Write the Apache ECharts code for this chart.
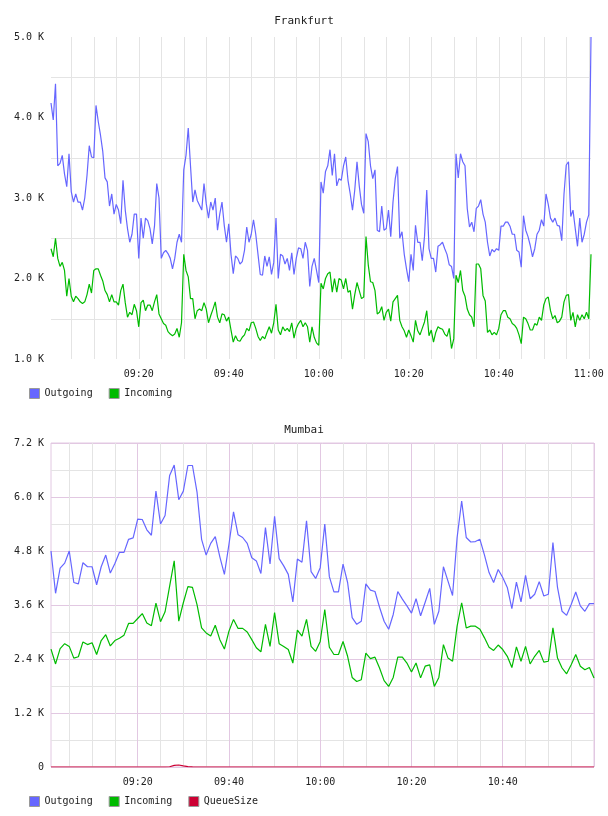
<!DOCTYPE html>
<html>
<head>
<meta charset="utf-8">
<title>Frankfurt / Mumbai</title>
<script src="https://cdn.jsdelivr.net/npm/echarts@6/dist/echarts.min.js"></script>
<style>
    html, body { margin: 0; padding: 0; background: #fff; }
    .chart { width: 608px; height: 408px; }
</style>
</head>
<body>
<div id="frankfurt" class="chart"></div>
<div id="mumbai" class="chart"></div>
<script>
'use strict';

// times are minutes after midnight, values in K
var frankfurtStart = 540.5;
var frankfurtStep = 0.5;
var frankfurtOutgoing = [
    4.18, 3.97, 4.42, 3.40, 3.43, 3.53, 3.30, 3.14, 3.55, 3.08, 2.95, 3.05, 2.95, 2.95, 2.85, 3.00, 3.28, 3.65, 3.51, 3.50,
    4.15, 3.95, 3.78, 3.58, 3.25, 3.20, 2.90, 3.05, 2.80, 2.92, 2.85, 2.68, 3.22, 2.85, 2.62, 2.45, 2.55, 2.80, 2.80, 2.25,
    2.75, 2.50, 2.75, 2.72, 2.62, 2.43, 2.65, 3.18, 3.00, 2.25, 2.32, 2.35, 2.31, 2.25, 2.12, 2.25, 2.45, 2.55, 2.45, 3.35,
    3.53, 3.87, 3.40, 2.95, 3.10, 2.97, 2.91, 2.85, 3.18, 2.93, 2.75, 2.95, 2.85, 3.00, 2.60, 2.80, 2.95, 2.66, 2.45, 2.68,
    2.30, 2.06, 2.28, 2.25, 2.18, 2.21, 2.35, 2.64, 2.45, 2.55, 2.73, 2.55, 2.30, 2.05, 2.04, 2.28, 2.15, 2.27, 2.05, 2.20,
    2.75, 2.00, 2.30, 2.28, 2.18, 2.25, 2.10, 2.32, 2.05, 2.25, 2.38, 2.37, 2.25, 2.45, 2.35, 1.90, 2.15, 2.25, 2.10, 1.95,
    3.20, 3.06, 3.33, 3.40, 3.60, 3.28, 3.55, 3.15, 3.24, 3.22, 3.40, 3.51, 3.22, 3.05, 2.85, 3.10, 3.45, 3.15, 2.92, 2.81,
    3.80, 3.70, 3.40, 3.24, 3.35, 2.60, 2.58, 2.90, 2.60, 2.62, 2.85, 2.52, 2.95, 3.24, 3.39, 2.50, 2.58, 2.30, 2.12, 1.96,
    2.30, 2.10, 2.66, 2.45, 2.45, 2.22, 2.52, 3.10, 2.37, 2.25, 2.25, 2.08, 2.40, 2.42, 2.45, 2.37, 2.30, 2.17, 2.15, 2.00,
    3.55, 3.25, 3.55, 3.45, 3.40, 2.87, 2.64, 2.70, 2.58, 2.87, 2.90, 2.98, 2.80, 2.70, 2.45, 2.28, 2.36, 2.33, 2.37, 2.35,
    2.65, 2.65, 2.70, 2.70, 2.65, 2.55, 2.55, 2.35, 2.33, 2.14, 2.78, 2.60, 2.52, 2.41, 2.27, 2.37, 2.55, 2.60, 2.73, 2.65,
    3.05, 2.92, 2.75, 2.70, 2.75, 2.66, 2.65, 2.47, 3.05, 3.41, 3.45, 2.77, 2.85, 2.62, 2.40, 2.75, 2.45, 2.55, 2.70, 2.79,
    5.00
];
var frankfurtIncoming = [
    2.37, 2.27, 2.50, 2.25, 2.15, 2.20, 2.10, 1.78, 2.00, 1.78, 1.71, 1.78, 1.75, 1.71, 1.69, 1.71, 1.80, 1.93, 1.82, 2.10,
    2.12, 2.12, 2.04, 1.97, 1.85, 1.80, 1.71, 1.80, 1.71, 1.71, 1.67, 1.85, 1.93, 1.70, 1.52, 1.58, 1.55, 1.68, 1.60, 1.40,
    1.70, 1.73, 1.60, 1.67, 1.67, 1.60, 1.71, 1.80, 1.56, 1.50, 1.44, 1.42, 1.34, 1.31, 1.29, 1.31, 1.38, 1.27, 1.45, 2.30,
    2.10, 2.02, 1.75, 1.75, 1.50, 1.60, 1.62, 1.60, 1.70, 1.62, 1.45, 1.54, 1.62, 1.71, 1.52, 1.45, 1.56, 1.55, 1.47, 1.52,
    1.36, 1.21, 1.29, 1.23, 1.22, 1.27, 1.30, 1.38, 1.35, 1.45, 1.46, 1.38, 1.28, 1.23, 1.28, 1.25, 1.33, 1.40, 1.32, 1.45,
    1.68, 1.36, 1.30, 1.40, 1.35, 1.38, 1.34, 1.45, 1.26, 1.38, 1.44, 1.48, 1.40, 1.45, 1.40, 1.21, 1.40, 1.27, 1.20, 1.17,
    1.94, 1.87, 2.00, 2.06, 2.08, 1.83, 2.00, 1.83, 2.00, 1.98, 1.87, 2.00, 1.83, 1.85, 1.62, 1.80, 1.95, 1.85, 1.75, 1.77,
    2.52, 2.17, 1.96, 1.95, 1.85, 1.56, 1.58, 1.65, 1.48, 1.58, 1.62, 1.47, 1.71, 1.75, 1.79, 1.48, 1.40, 1.35, 1.27, 1.36,
    1.29, 1.21, 1.48, 1.35, 1.30, 1.38, 1.46, 1.60, 1.29, 1.36, 1.21, 1.33, 1.40, 1.38, 1.37, 1.31, 1.28, 1.38, 1.13, 1.25,
    2.04, 1.95, 2.10, 1.85, 1.78, 1.62, 1.55, 1.52, 1.40, 2.18, 2.18, 2.12, 1.79, 1.72, 1.33, 1.36, 1.30, 1.33, 1.30, 1.38,
    1.55, 1.60, 1.60, 1.52, 1.50, 1.44, 1.42, 1.38, 1.30, 1.19, 1.52, 1.50, 1.44, 1.36, 1.36, 1.44, 1.42, 1.52, 1.48, 1.67,
    1.75, 1.77, 1.60, 1.50, 1.54, 1.45, 1.47, 1.52, 1.71, 1.79, 1.80, 1.48, 1.58, 1.40, 1.55, 1.48, 1.55, 1.50, 1.58, 1.50,
    2.30
];

var mumbaiStart = 541;
var mumbaiStep = 1;
var mumbaiOutgoing = [
    4.80, 3.86, 4.42, 4.53, 4.80, 4.10, 4.07, 4.54, 4.45, 4.45, 4.05, 4.45, 4.71, 4.31, 4.52, 4.77, 4.77, 5.06, 5.09, 5.51,
    5.50, 5.27, 5.15, 6.13, 5.40, 5.59, 6.48, 6.71, 5.94, 6.13, 6.70, 6.70, 6.11, 5.06, 4.71, 4.97, 5.12, 4.67, 4.28, 4.95,
    5.67, 5.16, 5.10, 4.97, 4.65, 4.58, 4.30, 5.32, 4.51, 5.57, 4.63, 4.47, 4.28, 3.67, 4.62, 4.55, 5.47, 4.34, 4.19, 4.43,
    5.40, 4.23, 3.89, 3.89, 4.51, 4.10, 3.32, 3.17, 3.24, 4.07, 3.93, 3.90, 3.55, 3.24, 3.06, 3.39, 3.90, 3.73, 3.58, 3.42,
    3.74, 3.36, 3.66, 3.97, 3.17, 3.46, 4.45, 4.13, 3.81, 5.10, 5.91, 5.10, 5.00, 5.01, 5.06, 4.71, 4.32, 4.10, 4.39, 4.21,
    3.99, 3.52, 4.11, 3.67, 4.26, 3.74, 3.84, 4.12, 3.80, 3.84, 4.99, 3.99, 3.46, 3.37, 3.61, 3.89, 3.58, 3.46, 3.63, 3.63
];
var mumbaiIncoming = [
    2.62, 2.29, 2.63, 2.74, 2.68, 2.42, 2.45, 2.78, 2.72, 2.76, 2.50, 2.81, 2.94, 2.69, 2.81, 2.86, 2.93, 3.19, 3.19, 3.30,
    3.41, 3.20, 3.14, 3.64, 3.23, 3.45, 4.02, 4.58, 3.24, 3.65, 4.01, 3.99, 3.61, 3.09, 2.98, 2.91, 3.15, 2.83, 2.62, 3.02,
    3.28, 3.08, 3.08, 3.00, 2.83, 2.65, 2.56, 3.17, 2.68, 3.43, 2.74, 2.68, 2.61, 2.31, 3.04, 2.91, 3.28, 2.68, 2.57, 2.79,
    3.50, 2.66, 2.50, 2.50, 2.79, 2.46, 1.99, 1.90, 1.94, 2.53, 2.41, 2.44, 2.20, 1.92, 1.79, 1.99, 2.44, 2.44, 2.31, 2.11,
    2.31, 1.98, 2.24, 2.27, 1.79, 1.99, 2.72, 2.42, 2.35, 3.13, 3.65, 3.09, 3.13, 3.13, 3.06, 2.87, 2.66, 2.59, 2.71, 2.61,
    2.46, 2.21, 2.67, 2.35, 2.68, 2.29, 2.46, 2.59, 2.33, 2.35, 3.09, 2.42, 2.20, 2.07, 2.27, 2.50, 2.24, 2.16, 2.21, 1.98
];
var mumbaiQueueSize = [
    0, 0, 0, 0, 0, 0, 0, 0, 0, 0, 0, 0, 0, 0, 0, 0, 0, 0, 0, 0,
    0, 0, 0, 0, 0, 0, 0.005, 0.035, 0.045, 0.025, 0.010, 0.003, 0, 0, 0, 0, 0, 0, 0, 0,
    0, 0, 0, 0, 0, 0, 0, 0, 0, 0, 0, 0, 0, 0, 0, 0, 0, 0, 0, 0,
    0, 0, 0, 0, 0, 0, 0, 0, 0, 0, 0, 0, 0, 0, 0, 0, 0, 0, 0, 0,
    0, 0, 0, 0, 0, 0, 0, 0, 0, 0, 0, 0, 0, 0, 0, 0, 0, 0, 0, 0,
    0, 0, 0, 0, 0, 0, 0, 0, 0, 0, 0, 0, 0, 0, 0, 0, 0, 0, 0, 0
];

var seriesNames = ['Outgoing', 'Incoming', 'QueueSize'];
var seriesColors = ['#6666ff', '#00bb00', '#cc0033'];

var monoFont = 'DejaVu Sans Mono';
var textColor = '#222';
var gray = '#e4e4e4';
var pink = '#e2c8e2';
var none = 'rgba(0,0,0,0)';

function toPairs(start, step, values) {
    return values.map(function(v, i) {
        return [start + i * step, v * 1000];
    });
}

function clockLabel(value) {
    var m = Math.round(value);
    if (Math.abs(value - m) > 1e-6 || m % 20 !== 0) return '';
    var h = Math.floor(m / 60);
    var mm = m % 60;
    return (h < 10 ? '0' : '') + h + ':' + (mm < 10 ? '0' : '') + mm;
}

function lineSeries(name, data) {
    var idx = seriesNames.indexOf(name);
    return {
        name: name,
        type: 'line',
        data: data,
        showSymbol: false,
        symbol: 'none',
        color: seriesColors[idx],
        lineStyle: { width: 1.2, color: seriesColors[idx] },
        z: 10 - idx
    };
}

function baseOption(title, names) {
    return {
        animation: false,
        title: {
            text: title,
            left: 'center',
            top: 12,
            textStyle: { fontFamily: monoFont, fontSize: 11, fontWeight: 'normal', color: textColor }
        },
        legend: {
            data: names,
            left: 24,
            top: 383,
            icon: 'rect',
            itemWidth: 10,
            itemHeight: 10,
            itemGap: 16,
            itemStyle: { borderColor: '#999', borderWidth: 1 },
            textStyle: { fontFamily: monoFont, fontSize: 10, color: textColor }
        }
    };
}

function axisText() {
    return { fontFamily: monoFont, fontSize: 10, color: textColor };
}

// Frankfurt
var frankfurt = echarts.init(document.getElementById('frankfurt'));
var fOpt = baseOption('Frankfurt', ['Outgoing', 'Incoming']);
fOpt.title.top = 11;
fOpt.grid = { left: 51, right: 17, top: 37, height: 322 };
fOpt.xAxis = {
    type: 'value',
    min: frankfurtStart,
    max: frankfurtStart + (frankfurtOutgoing.length - 1) * frankfurtStep,
    interval: frankfurtStep,
    axisLine: { show: false },
    axisTick: { show: false },
    axisLabel: Object.assign(axisText(), { margin: 10, formatter: clockLabel }),
    splitLine: {
        show: true,
        lineStyle: { width: 1, color: [none, none, none, none, none, none, none, none, none, gray] }
    }
};
fOpt.yAxis = {
    type: 'value',
    min: 1000,
    max: 5000,
    interval: 500,
    axisLine: { show: false },
    axisTick: { show: false },
    axisLabel: Object.assign(axisText(), {
        margin: 7,
        formatter: function(v) { return v % 1000 === 0 ? (v / 1000).toFixed(1) + ' K' : ''; }
    }),
    splitLine: { show: true, lineStyle: { width: 1, color: [none, gray] } }
};
fOpt.series = [
    lineSeries('Outgoing', toPairs(frankfurtStart, frankfurtStep, frankfurtOutgoing)),
    lineSeries('Incoming', toPairs(frankfurtStart, frankfurtStep, frankfurtIncoming))
];
frankfurt.setOption(fOpt);

// Mumbai
var mumbai = echarts.init(document.getElementById('mumbai'));
var mOpt = baseOption('Mumbai', seriesNames);
mOpt.grid = { left: 51, right: 14, top: 35, height: 324, show: true, borderColor: pink, borderWidth: 1 };
var mumbaiEnd = mumbaiStart + (mumbaiOutgoing.length - 1) * mumbaiStep;
mOpt.xAxis = {
    type: 'value',
    min: mumbaiStart,
    max: mumbaiEnd,
    interval: mumbaiStep,
    axisLine: { show: false },
    axisTick: { show: false },
    axisLabel: Object.assign(axisText(), {
        margin: 10,
        formatter: function(v) { return v >= mumbaiEnd ? '' : clockLabel(v); }
    }),
    splitLine: {
        show: true,
        lineStyle: {
            width: 1,
            color: [none, none, none, none, gray, none, none, none, none, gray,
                    none, none, none, none, gray, none, none, none, none, pink]
        }
    }
};
mOpt.yAxis = {
    type: 'value',
    min: 0,
    max: 7200,
    interval: 600,
    axisLine: { show: false },
    axisTick: { show: false },
    axisLabel: Object.assign(axisText(), {
        margin: 7,
        formatter: function(v) {
            if (v % 1200 !== 0) return '';
            return v === 0 ? '0' : (v / 1000).toFixed(1) + ' K';
        }
    }),
    splitLine: { show: true, lineStyle: { width: 1, color: [pink, gray] } }
};
mOpt.series = [
    lineSeries('Outgoing', toPairs(mumbaiStart, mumbaiStep, mumbaiOutgoing)),
    lineSeries('Incoming', toPairs(mumbaiStart, mumbaiStep, mumbaiIncoming)),
    lineSeries('QueueSize', toPairs(mumbaiStart, mumbaiStep, mumbaiQueueSize))
];
mumbai.setOption(mOpt);
</script>
</body>
</html>
